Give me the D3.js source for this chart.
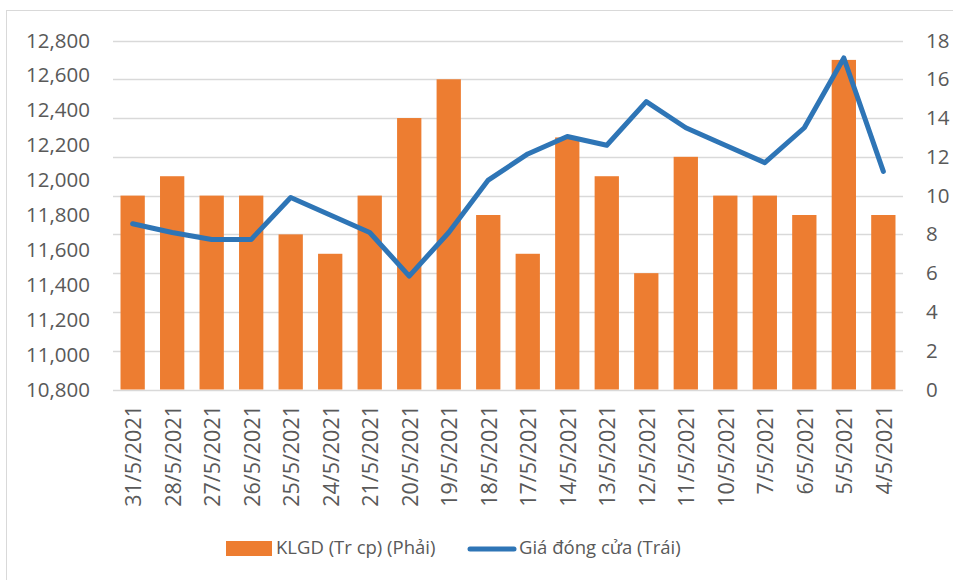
<!DOCTYPE html>
<html>
<head>
<meta charset="utf-8">
<script src="https://cdn.jsdelivr.net/npm/d3@7"></script>
<style>
  body { margin: 0; background: #fff; }
  svg { display: block; font-family: "Open Sans", sans-serif; }
</style>
</head>
<body>
<svg width="953" height="580"></svg>
<script>
var dates = ["31/5/2021", "28/5/2021", "27/5/2021", "26/5/2021", "25/5/2021",
  "24/5/2021", "21/5/2021", "20/5/2021", "19/5/2021", "18/5/2021",
  "17/5/2021", "14/5/2021", "13/5/2021", "12/5/2021", "11/5/2021",
  "10/5/2021", "7/5/2021", "6/5/2021", "5/5/2021", "4/5/2021"];
var volume = [10, 11, 10, 10, 8, 7, 10, 14, 16, 9, 7, 13, 11, 6, 12, 10, 10, 9, 17, 9];
var closePrice = [11750, 11700, 11660, 11660, 11900, 11800, 11700, 11450, 11700, 12000,
  12150, 12250, 12200, 12450, 12300, 12200, 12100, 12300, 12700, 12050];
var leftTicks = [10800, 11000, 11200, 11400, 11600, 11800, 12000, 12200, 12400, 12600, 12800];
var rightTicks = [0, 2, 4, 6, 8, 10, 12, 14, 16, 18];
var seriesNames = ["KLGD (Tr cp) (Phải)", "Giá đóng cửa (Trái)"];

(function () {
  "use strict";

  var svg = d3.select("svg");
  var orange = "#ed7d31";
  var blue = "#2e75b6";
  var textColor = "#595959";

  // outer frame (only left and top edges show)
  svg.append("rect")
    .attr("x", 6.5).attr("y", 10.5)
    .attr("width", 1000).attr("height", 1000)
    .attr("fill", "none").attr("stroke", "#d9d9d9");

  var left = 113, right = 903, top = 40.5, bottom = 389.5;

  var x = d3.scaleBand().domain(dates).range([left, right]).paddingInner(0.385).paddingOuter(0.19);
  var yL = d3.scaleLinear().domain([10800, 12800]).range([bottom, top]);
  var yR = d3.scaleLinear().domain([0, 18]).range([bottom, top]);

  // gridlines
  svg.append("g")
    .selectAll("line")
    .data(rightTicks)
    .join("line")
    .attr("x1", left).attr("x2", right)
    .attr("y1", function (d) { return Math.round(yR(d)) + 0.5; })
    .attr("y2", function (d) { return Math.round(yR(d)) + 0.5; })
    .attr("stroke", "#d9d9d9").attr("stroke-width", 1.3);

  // left axis
  var axisL = svg.append("g")
    .attr("transform", "translate(" + left + ",0)")
    .call(d3.axisLeft(yL).tickValues(leftTicks).tickFormat(d3.format(",")).tickSize(0).tickPadding(23));
  axisL.select(".domain").remove();

  // right axis
  var axisR = svg.append("g")
    .attr("transform", "translate(" + right + ",0)")
    .call(d3.axisRight(yR).tickValues(rightTicks).tickSize(0).tickPadding(23));
  axisR.select(".domain").remove();

  svg.selectAll(".tick text")
    .attr("fill", textColor)
    .style("font-size", "20.5px")
    .style("font-family", "'Open Sans', sans-serif");

  // bars
  svg.append("g")
    .selectAll("rect")
    .data(volume)
    .join("rect")
    .attr("x", function (d, i) { return x(dates[i]); })
    .attr("width", x.bandwidth())
    .attr("y", function (d) { return yR(d); })
    .attr("height", function (d) { return yR(0) - yR(d); })
    .attr("fill", orange);

  // line
  var line = d3.line()
    .x(function (d, i) { return x(dates[i]) + x.bandwidth() / 2; })
    .y(function (d) { return yL(d); });

  svg.append("path")
    .datum(closePrice)
    .attr("d", line)
    .attr("fill", "none")
    .attr("stroke", blue)
    .attr("stroke-width", 5)
    .attr("stroke-linejoin", "round")
    .attr("stroke-linecap", "round");

  // x labels
  svg.append("g")
    .selectAll("text")
    .data(dates)
    .join("text")
    .attr("transform", function (d) {
      return "translate(" + (x(d) + x.bandwidth() / 2 + 1) + "," + 405 + ") rotate(-90)";
    })
    .attr("text-anchor", "end")
    .attr("dy", "0.35em")
    .attr("fill", textColor)
    .style("font-size", "21.5px")
    .text(function (d) { return d; });

  // legend
  var legend = svg.append("g");
  legend.append("rect")
    .attr("x", 226).attr("y", 541)
    .attr("width", 46).attr("height", 15)
    .attr("fill", orange);
  legend.append("text")
    .attr("x", 276).attr("y", 548).attr("dy", "0.35em")
    .attr("fill", textColor).style("font-size", "18.5px")
    .text(seriesNames[0]);
  legend.append("line")
    .attr("x1", 470).attr("x2", 514)
    .attr("y1", 549).attr("y2", 549)
    .attr("stroke", blue).attr("stroke-width", 5)
    .attr("stroke-linecap", "round");
  legend.append("text")
    .attr("x", 519).attr("y", 548).attr("dy", "0.35em")
    .attr("fill", textColor).style("font-size", "18.5px")
    .text(seriesNames[1]);
})();
</script>
</body>
</html>
